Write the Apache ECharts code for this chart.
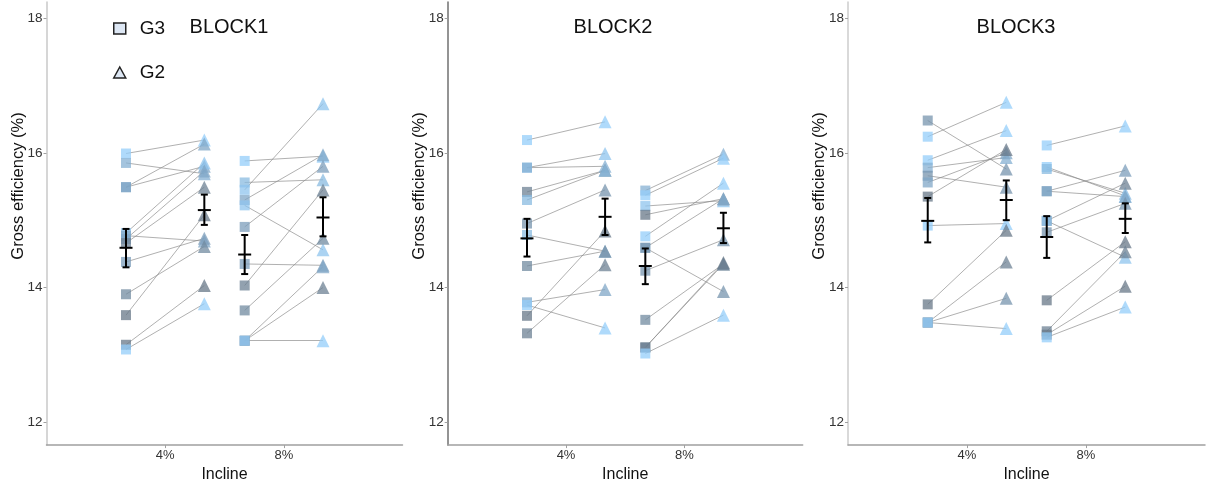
<!DOCTYPE html>
<html>
<head>
<meta charset="utf-8">
<script src="https://cdn.jsdelivr.net/npm/echarts@6/dist/echarts.min.js"></script>
<style>
  html, body { margin: 0; padding: 0; background: #fff; }
  #chart { width: 1208px; height: 488px; }
</style>
</head>
<body>
<div id="chart"></div>
<script>
// 坡度分类与刻度
var inclines = ['4%', '8%']
var yTicks = [12, 14, 16, 18]
var blocks = ['BLOCK1', 'BLOCK2', 'BLOCK3']

// 每个受试者：G3 值、G2 值、受试者编号（1 深 ~ 10 浅）
// BLOCK1
var b1i4G3 = [15.99, 15.85, 15.49, 15.49, 14.81, 14.77, 14.72, 14.66, 14.38, 13.90, 13.59, 13.15, 13.08]
var b1i4G2 = [16.19, 15.69, 16.13, 15.80, 15.85, 14.69, 15.73, 15.49, 14.73, 14.61, 15.08, 14.03, 13.76]
var b1i4Id = [10, 7, 6, 6, 9, 6, 6, 2, 5, 3, 1, 1, 10]
var b1i8G3 = [15.88, 15.56, 15.45, 15.30, 15.22, 14.90, 14.35, 14.03, 13.66, 13.21, 13.21, 13.21]
var b1i8G2 = [15.95, 15.60, 16.73, 15.97, 14.56, 15.80, 14.33, 15.45, 14.73, 14.31, 14.00, 13.21]
var b1i8Id = [10, 8, 9, 6, 9, 5, 5, 2, 3, 6, 2, 10]
// BLOCK2
var b2i4G3 = [16.19, 15.78, 15.78, 15.42, 15.30, 14.95, 14.78, 14.32, 13.78, 13.74, 13.58, 13.32]
var b2i4G2 = [16.46, 15.99, 15.80, 15.74, 15.74, 15.45, 14.54, 14.54, 13.97, 13.40, 14.84, 14.34]
var b2i4Id = [10, 9, 7, 2, 8, 4, 8, 3, 6, 10, 1, 2]
var b2i8G3 = [15.44, 15.37, 15.21, 15.08, 14.76, 14.59, 14.59, 14.25, 13.52, 13.11, 13.11, 13.02]
var b2i8G2 = [15.98, 15.92, 15.29, 15.32, 15.55, 15.32, 13.94, 14.71, 14.35, 14.37, 14.35, 13.59]
var b2i8Id = [7, 10, 9, 1, 10, 7, 4, 4, 3, 1, 2, 10]
// BLOCK3
var b3i4G3 = [16.48, 16.24, 15.89, 15.78, 15.66, 15.56, 15.35, 14.92, 13.75, 13.48, 13.48, 13.48]
var b3i4G2 = [15.76, 16.75, 16.33, 15.93, 15.49, 16.00, 16.05, 14.95, 14.85, 14.38, 13.84, 13.39]
var b3i4Id = [4, 10, 10, 7, 4, 6, 1, 10, 1, 2, 4, 10]
var b3i8G3 = [16.11, 15.79, 15.76, 15.43, 15.43, 14.99, 14.99, 14.82, 13.81, 13.35, 13.30, 13.26]
var b3i8G2 = [16.40, 15.36, 15.40, 15.74, 15.35, 15.55, 14.45, 15.25, 14.68, 14.53, 14.02, 13.71]
var b3i8Id = [10, 10, 8, 5, 6, 2, 9, 4, 1, 2, 1, 10]

// 均值与误差线（顺序：4%G3, 4%G2, 8%G3, 8%G2）
var b1Mean = [14.59, 15.15, 14.49, 15.04]
var b1Lo = [14.30, 14.93, 14.20, 14.76]
var b1Hi = [14.87, 15.38, 14.78, 15.34]
var b2Mean = [14.73, 15.05, 14.32, 14.88]
var b2Lo = [14.46, 14.78, 14.05, 14.66]
var b2Hi = [15.02, 15.32, 14.58, 15.11]
var b3Mean = [14.99, 15.30, 14.75, 15.02]
var b3Lo = [14.67, 15.00, 14.44, 14.81]
var b3Hi = [15.33, 15.59, 15.06, 15.25]

var panels = [
  { i4: [b1i4G3, b1i4G2, b1i4Id], i8: [b1i8G3, b1i8G2, b1i8Id], mean: b1Mean, lo: b1Lo, hi: b1Hi },
  { i4: [b2i4G3, b2i4G2, b2i4Id], i8: [b2i8G3, b2i8G2, b2i8Id], mean: b2Mean, lo: b2Lo, hi: b2Hi },
  { i4: [b3i4G3, b3i4G2, b3i4Id], i8: [b3i8G3, b3i8G2, b3i8Id], mean: b3Mean, lo: b3Lo, hi: b3Hi }
]

// 面板位置
var gridLeft = [46.5, 447.7, 848]
var gridWidth = [356, 355, 357]
var yLineColor = ['#c8c8c8', '#707070', '#cccccc']
var titleX = [229, 613, 1016]
var offset = 0.33

// ggplot 默认连续色阶，叠加透明度
function shade(id) {
  var lo = [19, 43, 67], hi = [86, 177, 247]
  var t = (id - 1) / 9
  var a = 0.64
  var c = lo.map(function (v, k) {
    var ch = v + (hi[k] - v) * t
    return Math.round(ch * a + 255 * (1 - a))
  })
  return 'rgba(' + c.join(',') + ',0.93)'
}

var grids = [], xAxes = [], yAxes = [], series = [], graphics = []
var font = 'Liberation Sans, Arial, sans-serif'

panels.forEach(function (p, pi) {
  grids.push({ left: gridLeft[pi], top: 2, width: gridWidth[pi], height: 450.5 })
  xAxes.push({
    gridIndex: pi, type: 'value', min: 0, max: 3,
    axisLine: { lineStyle: { color: '#a0a0a0', width: 1.5 } },
    axisTick: { length: 3, lineStyle: { color: '#a0a0a0' }, customValues: [1, 2] },
    axisLabel: {
      customValues: [1, 2], margin: 4, fontSize: 13, color: '#333', fontFamily: font,
      formatter: function (v) { return inclines[Math.round(v) - 1] }
    },
    splitLine: { show: false },
    name: 'Incline', nameLocation: 'middle', nameGap: 19,
    nameTextStyle: { fontSize: 16, color: '#111', fontFamily: font }
  })
  yAxes.push({
    gridIndex: pi, type: 'value', min: 11.66, max: 18.24,
    axisLine: { show: true, lineStyle: { color: yLineColor[pi], width: 1.5 } },
    axisTick: { show: true, length: 3, lineStyle: { color: '#a0a0a0' }, customValues: yTicks },
    axisLabel: { customValues: yTicks, margin: 4, fontSize: 13.5, color: '#333', fontFamily: font },
    splitLine: { show: false }
  })

  var sq = [], tri = [], segs = [], bars = []
  ;[p.i4, p.i8].forEach(function (cond, ci) {
    var x3 = ci + 1 - offset, x2 = ci + 1 + offset
    cond[0].forEach(function (v, k) {
      var col = shade(cond[2][k])
      sq.push({ value: [x3, v], itemStyle: { color: col } })
      tri.push({ value: [x2, cond[1][k]], itemStyle: { color: col } })
      segs.push({ coords: [[x3, v], [x2, cond[1][k]]] })
    })
    bars.push([x3, p.mean[ci * 2], p.lo[ci * 2], p.hi[ci * 2]])
    bars.push([x2, p.mean[ci * 2 + 1], p.lo[ci * 2 + 1], p.hi[ci * 2 + 1]])
  })

  series.push({
    type: 'lines', coordinateSystem: 'cartesian2d', xAxisIndex: pi, yAxisIndex: pi,
    data: segs, z: 1, silent: true,
    lineStyle: { color: '#8a8a8a', width: 0.8, opacity: 0.85 }
  })
  series.push({
    name: 'G3', type: 'scatter', xAxisIndex: pi, yAxisIndex: pi, symbol: 'rect', symbolSize: 10,
    data: sq, z: 2
  })
  series.push({
    name: 'G2', type: 'scatter', xAxisIndex: pi, yAxisIndex: pi, symbol: 'triangle', symbolSize: 13,
    data: tri, z: 2
  })
  // 均值 ± 误差线
  series.push({
    type: 'custom', xAxisIndex: pi, yAxisIndex: pi, z: 3, silent: true,
    encode: { x: 0, y: [1, 2, 3] },
    data: bars,
    renderItem: function (params, api) {
      var x = api.value(0)
      var m = api.coord([x, api.value(1)])
      var lo = api.coord([x, api.value(2)])
      var hi = api.coord([x, api.value(3)])
      var st = { stroke: '#000', lineWidth: 2 }
      return {
        type: 'group',
        children: [
          { type: 'line', shape: { x1: m[0], y1: lo[1], x2: m[0], y2: hi[1] }, style: st },
          { type: 'line', shape: { x1: m[0] - 3.5, y1: lo[1], x2: m[0] + 3.5, y2: lo[1] }, style: st },
          { type: 'line', shape: { x1: m[0] - 3.5, y1: hi[1], x2: m[0] + 3.5, y2: hi[1] }, style: st },
          { type: 'line', shape: { x1: m[0] - 6.5, y1: m[1], x2: m[0] + 6.5, y2: m[1] }, style: st }
        ]
      }
    }
  })

  graphics.push({
    type: 'text', x: titleX[pi], y: 27,
    style: { text: blocks[pi], fontSize: 20, fill: '#111', fontFamily: font, align: 'center', verticalAlign: 'middle' }
  })
  graphics.push({
    type: 'text', x: gridLeft[pi] - 28.5, y: 186, rotation: Math.PI / 2,
    style: { text: 'Gross efficiency (%)', fontSize: 16.5, fill: '#111', fontFamily: font, align: 'center', verticalAlign: 'middle' }
  })
})

var option = {
  animation: false,
  grid: grids,
  xAxis: xAxes,
  yAxis: yAxes,
  legend: {
    data: [{ name: 'G3', icon: 'rect' }, { name: 'G2', icon: 'triangle' }],
    orient: 'vertical', left: 108, top: 14,
    itemWidth: 12, itemHeight: 11, itemGap: 25,
    itemStyle: { color: '#dde7f4', borderColor: '#222', borderWidth: 1.5, opacity: 1 },
    textStyle: { fontSize: 19, color: '#111', fontFamily: font, padding: [0, 0, 0, 9] }
  },
  graphic: graphics,
  series: series
}

var mCharts = echarts.init(document.getElementById('chart'))
mCharts.setOption(option)
</script>
</body>
</html>
